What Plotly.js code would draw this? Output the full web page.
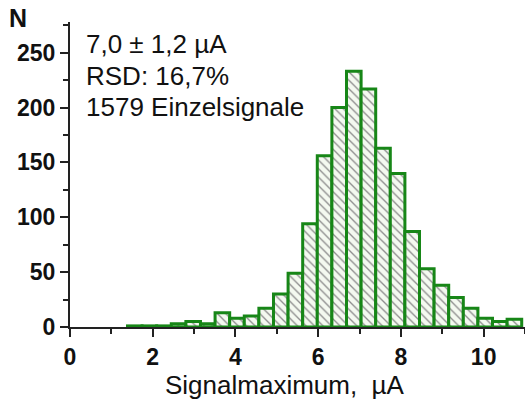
<!DOCTYPE html>
<html>
<head>
<meta charset="utf-8">
<script src="https://cdn.plot.ly/plotly-3.0.1.min.js"></script>
<style>html,body{margin:0;padding:0;background:#fff;}#chart{width:525px;height:407px;}</style>
</head>
<body>
<div id="chart"></div>
<script>
// Bin centres (µA) and counts
const binCenters = [1.566, 1.919, 2.272, 2.625, 2.978, 3.331, 3.684, 4.037, 4.390, 4.743,
                    5.096, 5.449, 5.802, 6.155, 6.508, 6.861, 7.214, 7.567, 7.920, 8.273,
                    8.626, 8.979, 9.332, 9.685, 10.038, 10.391, 10.744];
const binWidth = 0.353;
const counts = [1, 1, 1, 3, 5, 3, 13, 8, 10, 17,
                30, 49, 94, 156, 200, 233, 217, 163, 140, 87,
                53, 38, 27, 17, 8, 5, 7];
const statLines = ["7,0 ± 1,2 µA", "RSD: 16,7%", "1579 Einzelsignale"];
const xTitle = "Signalmaximum,  µA";
const yTitle = "N";

const FONT = "Liberation Sans, Arial, sans-serif";

const trace = {
  type: 'bar',
  x: binCenters,
  y: counts,
  width: binCenters.map(() => binWidth),
  marker: {
    color: '#f4f9f0',
    line: {color: '#178617', width: 3},
    pattern: {shape: '\\', fgcolor: '#8c8c8c', bgcolor: '#f4f9f0', size: 6, solidity: 0.22}
  },
  hoverinfo: 'skip'
};

const tickFont = {family: FONT, size: 23, color: '#111', weight: 'bold'};

const annotations = [
  {text: yTitle, xref: 'paper', yref: 'paper', x: -0.114, y: 1.013, xanchor: 'center', yanchor: 'middle',
   showarrow: false, font: {family: FONT, size: 25, color: '#111', weight: 'bold'}},
  {text: xTitle, xref: 'paper', yref: 'paper', x: 0.472, y: -0.19, xanchor: 'center', yanchor: 'middle',
   showarrow: false, font: {family: FONT, size: 26, color: '#111'}}
];
const lineY = [0.928, 0.823, 0.721];
statLines.forEach((t, i) => annotations.push({
  text: t, xref: 'paper', yref: 'paper', x: 0.031, y: lineY[i], xanchor: 'left', yanchor: 'middle',
  showarrow: false, font: {family: FONT, size: 26, color: '#111'}
}));

const layout = {
  width: 525, height: 407,
  margin: {l: 70, r: 0, t: 22, b: 80, pad: 0},
  paper_bgcolor: '#fff', plot_bgcolor: '#fff',
  showlegend: false,
  bargap: 0,
  xaxis: {
    range: [0, 11], showgrid: false, zeroline: false,
    showline: true, linecolor: '#222', linewidth: 2,
    ticks: 'outside', ticklen: 8, tickwidth: 2, tickcolor: '#222',
    tick0: 0, dtick: 2, tickfont: tickFont,
    minor: {dtick: 1, ticks: 'outside', ticklen: 5, tickwidth: 2, tickcolor: '#222', showgrid: false}
  },
  yaxis: {
    range: [0, 278], showgrid: false, zeroline: false,
    showline: true, linecolor: '#222', linewidth: 2,
    ticks: 'outside', ticklen: 8, tickwidth: 2, tickcolor: '#222',
    tick0: 0, dtick: 50, tickfont: tickFont,
    minor: {dtick: 25, ticks: 'outside', ticklen: 5, tickwidth: 2, tickcolor: '#222', showgrid: false}
  },
  annotations: annotations
};

Plotly.newPlot('chart', [trace], layout, {staticPlot: true, displayModeBar: false});
</script>
</body>
</html>
